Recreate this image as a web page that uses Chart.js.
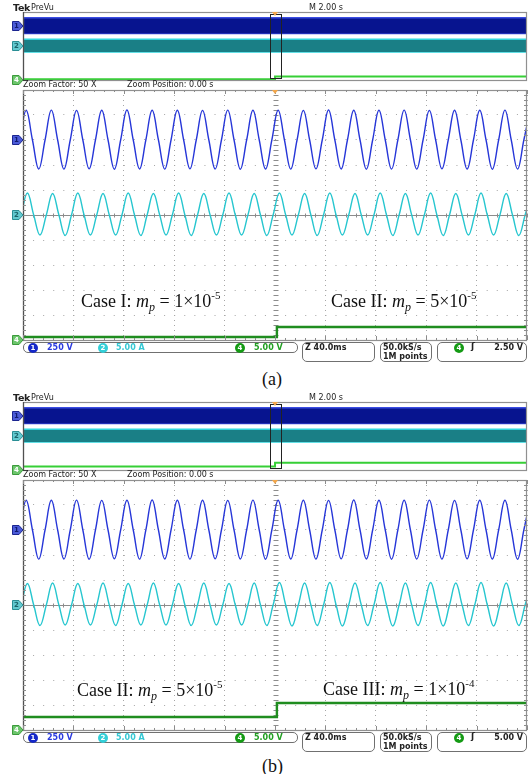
<!DOCTYPE html>
<html>
<head>
<meta charset="utf-8">
<script src="https://cdn.jsdelivr.net/npm/chart.js@4.4.1/dist/chart.umd.min.js"></script>
<style>
  html, body { margin: 0; padding: 0; background: #fff; }
  body { width: 530px; height: 774px; position: relative; overflow: hidden; font-family: "DejaVu Sans", sans-serif; }
  canvas { position: absolute; left: 0; }
  .t { position: absolute; white-space: nowrap; font-size: 8px; line-height: 9px; color: #222; }
  .b { font-weight: bold; }
  .box { position: absolute; border: 1px solid #707070; border-radius: 5px; box-sizing: border-box; }
  .dot { position: absolute; width: 10px; height: 10px; border-radius: 50%; color: #fff; font-weight: bold;
         font-size: 7px; line-height: 10px; text-align: center; }
  .case { position: absolute; font-family: "Liberation Serif", serif; font-size: 18px; line-height: 18px; color: #111; white-space: nowrap; }
  .case sub { font-size: 12px; vertical-align: -4px; line-height: 0; }
  .case sup { font-size: 11px; vertical-align: 8px; line-height: 0; }
  .cap { position: absolute; font-family: "Liberation Serif", serif; font-size: 18px; line-height: 18px; color: #111; }
</style>
</head>
<body>
<script>
// ---- readings off the two scope captures ----
// main (zoom) window: Z 40.0 ms/div over 10 div, centred on zoom position 0.00 s
const mainTimeMs = [-200, 200];
const quarterMs = 5;                 // 50 Hz: one entry per zero crossing / crest
const ch1PeakMs = [2.5, 2.5];        // crest nearest t = 0, panel (a) and (b)
const ch2PeakMs = [3.5, 3.5];

// CH1 voltage (V), first entry is the rising zero crossing before the first crest
const ch1VoltsA = [0, 297, 0, -290, 0, 299, 0, -291, 0, 296, 0, -289, 0, 298, 0, -292, 0, 300, 0, -290,
  0, 297, 0, -291, 0, 298, 0, -289, 0, 296, 0, -290, 0, 299, 0, -292, 0, 297, 0, -290,
  0, 298, 0, -291, 0, 296, 0, -289, 0, 300, 0, -290, 0, 297, 0, -292, 0, 298, 0, -290,
  0, 299, 0, -291, 0, 296, 0, -289, 0, 298, 0, -290, 0, 297, 0, -292, 0, 299, 0, -290, 0, 298];
const ch1VoltsB = [0, 298, 0, -291, 0, 297, 0, -290, 0, 299, 0, -292, 0, 296, 0, -289, 0, 298, 0, -291,
  0, 300, 0, -290, 0, 297, 0, -291, 0, 298, 0, -289, 0, 296, 0, -290, 0, 299, 0, -292,
  0, 297, 0, -290, 0, 298, 0, -291, 0, 296, 0, -289, 0, 300, 0, -290, 0, 297, 0, -292,
  0, 298, 0, -290, 0, 299, 0, -291, 0, 296, 0, -289, 0, 298, 0, -290, 0, 297, 0, -292, 0, 299];
// CH2 current (A)
const ch2AmpsA = [0, 4.4, 0, -4.0, 0, 4.3, 0, -4.1, 0, 4.4, 0, -4.0, 0, 4.3, 0, -4.0, 0, 4.4, 0, -4.1,
  0, 4.3, 0, -4.0, 0, 4.4, 0, -4.1, 0, 4.3, 0, -4.0, 0, 4.4, 0, -4.0, 0, 4.3, 0, -4.1,
  0, 4.4, 0, -4.0, 0, 4.3, 0, -4.1, 0, 4.4, 0, -4.0, 0, 4.3, 0, -4.0, 0, 4.4, 0, -4.1,
  0, 4.3, 0, -4.0, 0, 4.4, 0, -4.1, 0, 4.3, 0, -4.0, 0, 4.4, 0, -4.0, 0, 4.3, 0, -4.1, 0, 4.4];
const ch2AmpsB = [0, 4.3, 0, -4.1, 0, 4.4, 0, -4.0, 0, 4.3, 0, -4.0, 0, 4.4, 0, -4.1, 0, 4.3, 0, -4.0,
  0, 4.4, 0, -4.0, 0, 4.3, 0, -4.1, 0, 4.4, 0, -4.0, 0, 4.3, 0, -4.0, 0, 4.4, 0, -4.1,
  0, 4.5, 0, -4.2, 0, 4.4, 0, -4.1, 0, 4.5, 0, -4.2, 0, 4.4, 0, -4.1, 0, 4.5, 0, -4.2,
  0, 4.4, 0, -4.1, 0, 4.5, 0, -4.2, 0, 4.4, 0, -4.1, 0, 4.5, 0, -4.2, 0, 4.4, 0, -4.1, 0, 4.5];
// CH4 mode signal (V): level before and after the switch at t = stepMs
const ch4StepMs = [1.5, 1.5];
const ch4LevelsA = [0.6, 2.6];
const ch4LevelsB = [2.6, 5.4];

// overview (PreVu) window: M 2.00 s/div, envelopes of the 50 Hz traces
const ovTimeS = [-10, 10];
const ch1EnvV = [290, -290];
const ch2EnvA = [4.9, -4.4];

const panels = [
  { top: 0, ch1: ch1VoltsA, ch2: ch2AmpsA, ch4: ch4LevelsA, k: 0, trig: '2.50 V', cap: '(a)', capTop: 370,
    cases: [['Case I', '1', '-5', 81, 292], ['Case II', '5', '-5', 331, 292]] },
  { top: 390, ch1: ch1VoltsB, ch2: ch2AmpsB, ch4: ch4LevelsB, k: 1, trig: '5.00 V', cap: '(b)', capTop: 367,
    cases: [['Case II', '5', '-5', 77, 291], ['Case III', '1', '-4', 323, 290]] }
];

const wave = (vals, peakMs) => vals.map((v, i) => ({ x: peakMs - 200 - quarterMs + i * quarterMs, y: v }));
const step = (times, at, lv) => [
  { x: times[0], y: lv[0] }, { x: at, y: lv[0] }, { x: at, y: lv[1] }, { x: times[1], y: lv[1] }
];

// channel axes: 250 V/div, 5.00 A/div, 5.00 V/div with the ground markers at +3, 0, -5 div
const chanScales = {
  y1: { display: false, min: -2000, max: 500 },
  y2: { display: false, min: -25, max: 25 },
  y4: { display: false, min: 0, max: 50 }
};
const flags = [
  { axis: 'y1', txt: '1', fill: '#4b5bd8', stroke: '#1b2590', fg: '#101a70' },
  { axis: 'y2', txt: '2', fill: '#62c9cf', stroke: '#2a8e94', fg: '#1a6268' },
  { axis: 'y4', txt: '4', fill: '#6cc66c', stroke: '#3d9a3d', fg: '#ffffff' }
];

const scopeFrame = {
  id: 'scopeFrame',
  beforeDatasetsDraw(chart, _a, o) {
    if (o.kind !== 'main') return;
    const { ctx, chartArea: a } = chart;
    const x = chart.scales.x, yg = chart.scales.yg;
    const cy = Math.round(yg.getPixelForValue(0)) + 0.5;
    const cx = Math.round(x.getPixelForValue(0)) + 0.5;
    ctx.save();
    ctx.strokeStyle = '#8c8c8c';
    ctx.lineWidth = 1;
    ctx.beginPath();
    ctx.moveTo(a.left, cy); ctx.lineTo(a.right, cy);
    for (let i = -25; i <= 25; i++) {
      const px = Math.round(x.getPixelForValue(i * 8)) + 0.5;
      ctx.moveTo(px, cy - 2); ctx.lineTo(px, cy + 2);
      const py = Math.round(yg.getPixelForValue(i / 5)) + 0.5;
      ctx.moveTo(cx - 2, py); ctx.lineTo(cx + 3, py);
    }
    ctx.stroke();
    ctx.restore();
  },
  afterDatasetsDraw(chart, _a, o) {
    const { ctx, chartArea: a } = chart;
    const x = chart.scales.x;
    ctx.save();
    ctx.lineWidth = 1.2;
    ctx.strokeStyle = '#909090';
    ctx.strokeRect(a.left + 0.5, a.top + 0.5, a.right - a.left - 1, a.bottom - a.top);
    ctx.strokeStyle = '#505050';
    ctx.beginPath(); ctx.moveTo(a.left + 0.5, a.top); ctx.lineTo(a.left + 0.5, a.bottom + 1); ctx.stroke();
    ctx.lineWidth = 1;
    if (o.kind === 'main') {
      const yg = chart.scales.yg;
      ctx.strokeStyle = '#8c8c8c';
      ctx.beginPath();
      for (let i = -25; i <= 25; i++) {
        const px = Math.round(x.getPixelForValue(i * 8)) + 0.5;
        ctx.moveTo(px, a.top); ctx.lineTo(px, a.top + (i % 5 ? 2 : 4));
        ctx.moveTo(px, a.bottom); ctx.lineTo(px, a.bottom - (i % 5 ? 2 : 4));
        const py = Math.round(yg.getPixelForValue(i / 5)) + 0.5;
        ctx.moveTo(a.left, py); ctx.lineTo(a.left + 3, py);
        ctx.moveTo(a.right, py); ctx.lineTo(a.right - 3, py);
      }
      ctx.stroke();
    } else {
      // zoom window outline on the overview record
      const l = Math.round(x.getPixelForValue(o.zoom[0])) + 0.5;
      const r = Math.round(x.getPixelForValue(o.zoom[1])) + 0.5;
      ctx.strokeStyle = '#222';
      ctx.strokeRect(l, a.top + 2.5, r - l, a.bottom - a.top - 4);
    }
    // trigger position marker
    const tx = x.getPixelForValue(0);
    ctx.fillStyle = '#f2a64a';
    ctx.beginPath();
    ctx.moveTo(tx - 3, a.top); ctx.lineTo(tx + 3, a.top); ctx.lineTo(tx, a.top + 4); ctx.closePath();
    ctx.fill();
    // channel ground flags
    ctx.font = 'bold 7px "DejaVu Sans"';
    ctx.textAlign = 'center';
    ctx.textBaseline = 'middle';
    flags.forEach(f => {
      const y = Math.round(chart.scales[f.axis].getPixelForValue(0));
      ctx.fillStyle = f.fill;
      ctx.strokeStyle = f.stroke;
      ctx.beginPath();
      ctx.moveTo(12.5, y - 4.5); ctx.lineTo(19, y - 4.5); ctx.lineTo(23, y); ctx.lineTo(19, y + 4.5); ctx.lineTo(12.5, y + 4.5);
      ctx.closePath(); ctx.fill(); ctx.stroke();
      ctx.fillStyle = f.fg;
      ctx.fillText(f.txt, 16.5, y + 0.5);
    });
    ctx.restore();
  }
};

const baseOpts = (kind, pad, extraScales, zoom) => ({
  responsive: false, animation: false, events: [],
  layout: { padding: pad },
  plugins: { legend: { display: false }, tooltip: { enabled: false }, scopeFrame: { kind, zoom } },
  elements: { point: { radius: 0 } },
  scales: Object.assign({}, extraScales, chanScales)
});

function addCanvas(top, h) {
  const c = document.createElement('canvas');
  c.width = 530; c.height = h;
  c.style.top = top + 'px';
  document.body.appendChild(c);
  return c;
}
function addText(html, left, top, cls, style) {
  const d = document.createElement('div');
  d.className = cls;
  d.style.left = left + 'px';
  d.style.top = top + 'px';
  if (style) d.style.cssText += style;
  d.innerHTML = html;
  document.body.appendChild(d);
  return d;
}

panels.forEach(p => {
  const oy = p.top;

  // overview record
  new Chart(addCanvas(oy + 10, 76), {
    type: 'line',
    data: { datasets: [
      { data: ovTimeS.map(t => ({ x: t, y: ch1EnvV[0] })), yAxisID: 'y1', fill: '+1',
        backgroundColor: '#07148f', borderColor: '#3a4ce2', borderWidth: 1.5 },
      { data: ovTimeS.map(t => ({ x: t, y: ch1EnvV[1] })), yAxisID: 'y1', borderColor: '#3a4ce2', borderWidth: 1.5 },
      { data: ovTimeS.map(t => ({ x: t, y: ch2EnvA[0] })), yAxisID: 'y2', fill: '+1',
        backgroundColor: '#1a7f86', borderColor: '#2fd6de', borderWidth: 1.5 },
      { data: ovTimeS.map(t => ({ x: t, y: ch2EnvA[1] })), yAxisID: 'y2', borderColor: '#2fd6de', borderWidth: 1.5 },
      { data: step(ovTimeS, ch4StepMs[p.k] / 1000, p.ch4), yAxisID: 'y4', borderColor: '#36cf36', borderWidth: 2 }
    ] },
    options: baseOpts('overview', { left: 23, right: 3, top: 2, bottom: 6 },
      { x: { type: 'linear', display: false, min: ovTimeS[0], max: ovTimeS[1] } }, [-0.2, 0.22]),
    plugins: [scopeFrame]
  });

  // zoomed window
  new Chart(addCanvas(oy + 86, 262), {
    type: 'line',
    data: { datasets: [
      { data: wave(p.ch1, ch1PeakMs[p.k]), yAxisID: 'y1', borderColor: '#2636d8', borderWidth: 1.4, tension: 0.4 },
      { data: wave(p.ch2, ch2PeakMs[p.k]), yAxisID: 'y2', borderColor: '#26c6cf', borderWidth: 1.4, tension: 0.4 },
      { data: step(mainTimeMs, ch4StepMs[p.k], p.ch4), yAxisID: 'y4', borderColor: '#1f8d1f', borderWidth: 2.4 }
    ] },
    options: baseOpts('main', { left: 23, right: 3, top: 4, bottom: 8 }, {
      x: { type: 'linear', min: mainTimeMs[0], max: mainTimeMs[1],
           ticks: { display: false, stepSize: 40 },
           grid: { color: '#a6a6a6', drawTicks: false, lineWidth: 1 },
           border: { display: false, dash: [1, 4] } },
      yg: { min: -5, max: 5, ticks: { display: false, stepSize: 1 },
            grid: { color: '#a6a6a6', drawTicks: false, lineWidth: 1 },
            border: { display: false, dash: [1, 9.08] } }
    }),
    plugins: [scopeFrame]
  });

  // header texts
  addText('Tek', 13, oy + 3, 't b', 'font-size:9.5px;letter-spacing:-0.3px');
  addText('PreVu', 31, oy + 3, 't');
  addText('M 2.00 s', 309, oy + 3, 't');
  addText('Zoom Factor: 50 X', 23, oy + 80, 't');
  addText('Zoom Position: 0.00 s', 127, oy + 80, 't');

  // status bar
  const sy = oy + 342;
  addText('', 23, sy, 'box', 'width:275px;height:11px');
  addText('1', 28, sy + 0.5, 'dot', 'background:#1528c8');
  addText('250 V', 47, sy + 1, 't b', 'color:#2a3ae0');
  addText('2', 98, sy + 0.5, 'dot', 'background:#34cfd8');
  addText('5.00 A', 116, sy + 1, 't b', 'color:#36c8d4');
  addText('4', 235, sy + 0.5, 'dot', 'background:#149a14');
  addText('5.00 V', 254, sy + 1, 't b', 'color:#22a022');
  addText('', 302, sy, 'box', 'width:73px;height:20px');
  addText('Z 40.0ms', 305, sy + 1, 't b');
  addText('', 380, sy, 'box', 'width:52px;height:20px');
  addText('50.0kS/s', 383, sy + 1, 't b');
  addText('1M points', 383, sy + 10, 't b');
  addText('', 437, sy, 'box', 'width:90px;height:20px');
  addText('4', 454, sy + 0.5, 'dot', 'background:#149a14');
  addText('ʃ', 471, sy, 't b', 'font-size:9px');
  addText(p.trig, 0, sy + 1, 't b', 'left:auto;right:7px');

  // case labels
  p.cases.forEach(c => {
    addText(c[0] + ': <i>m</i><sub><i>p</i></sub> = ' + c[1] + '×10<sup>' + c[2] + '</sup>',
      c[3], oy + c[4], 'case');
  });
  addText(p.cap, 262, oy + p.capTop, 'cap');
});
</script>
</body>
</html>
